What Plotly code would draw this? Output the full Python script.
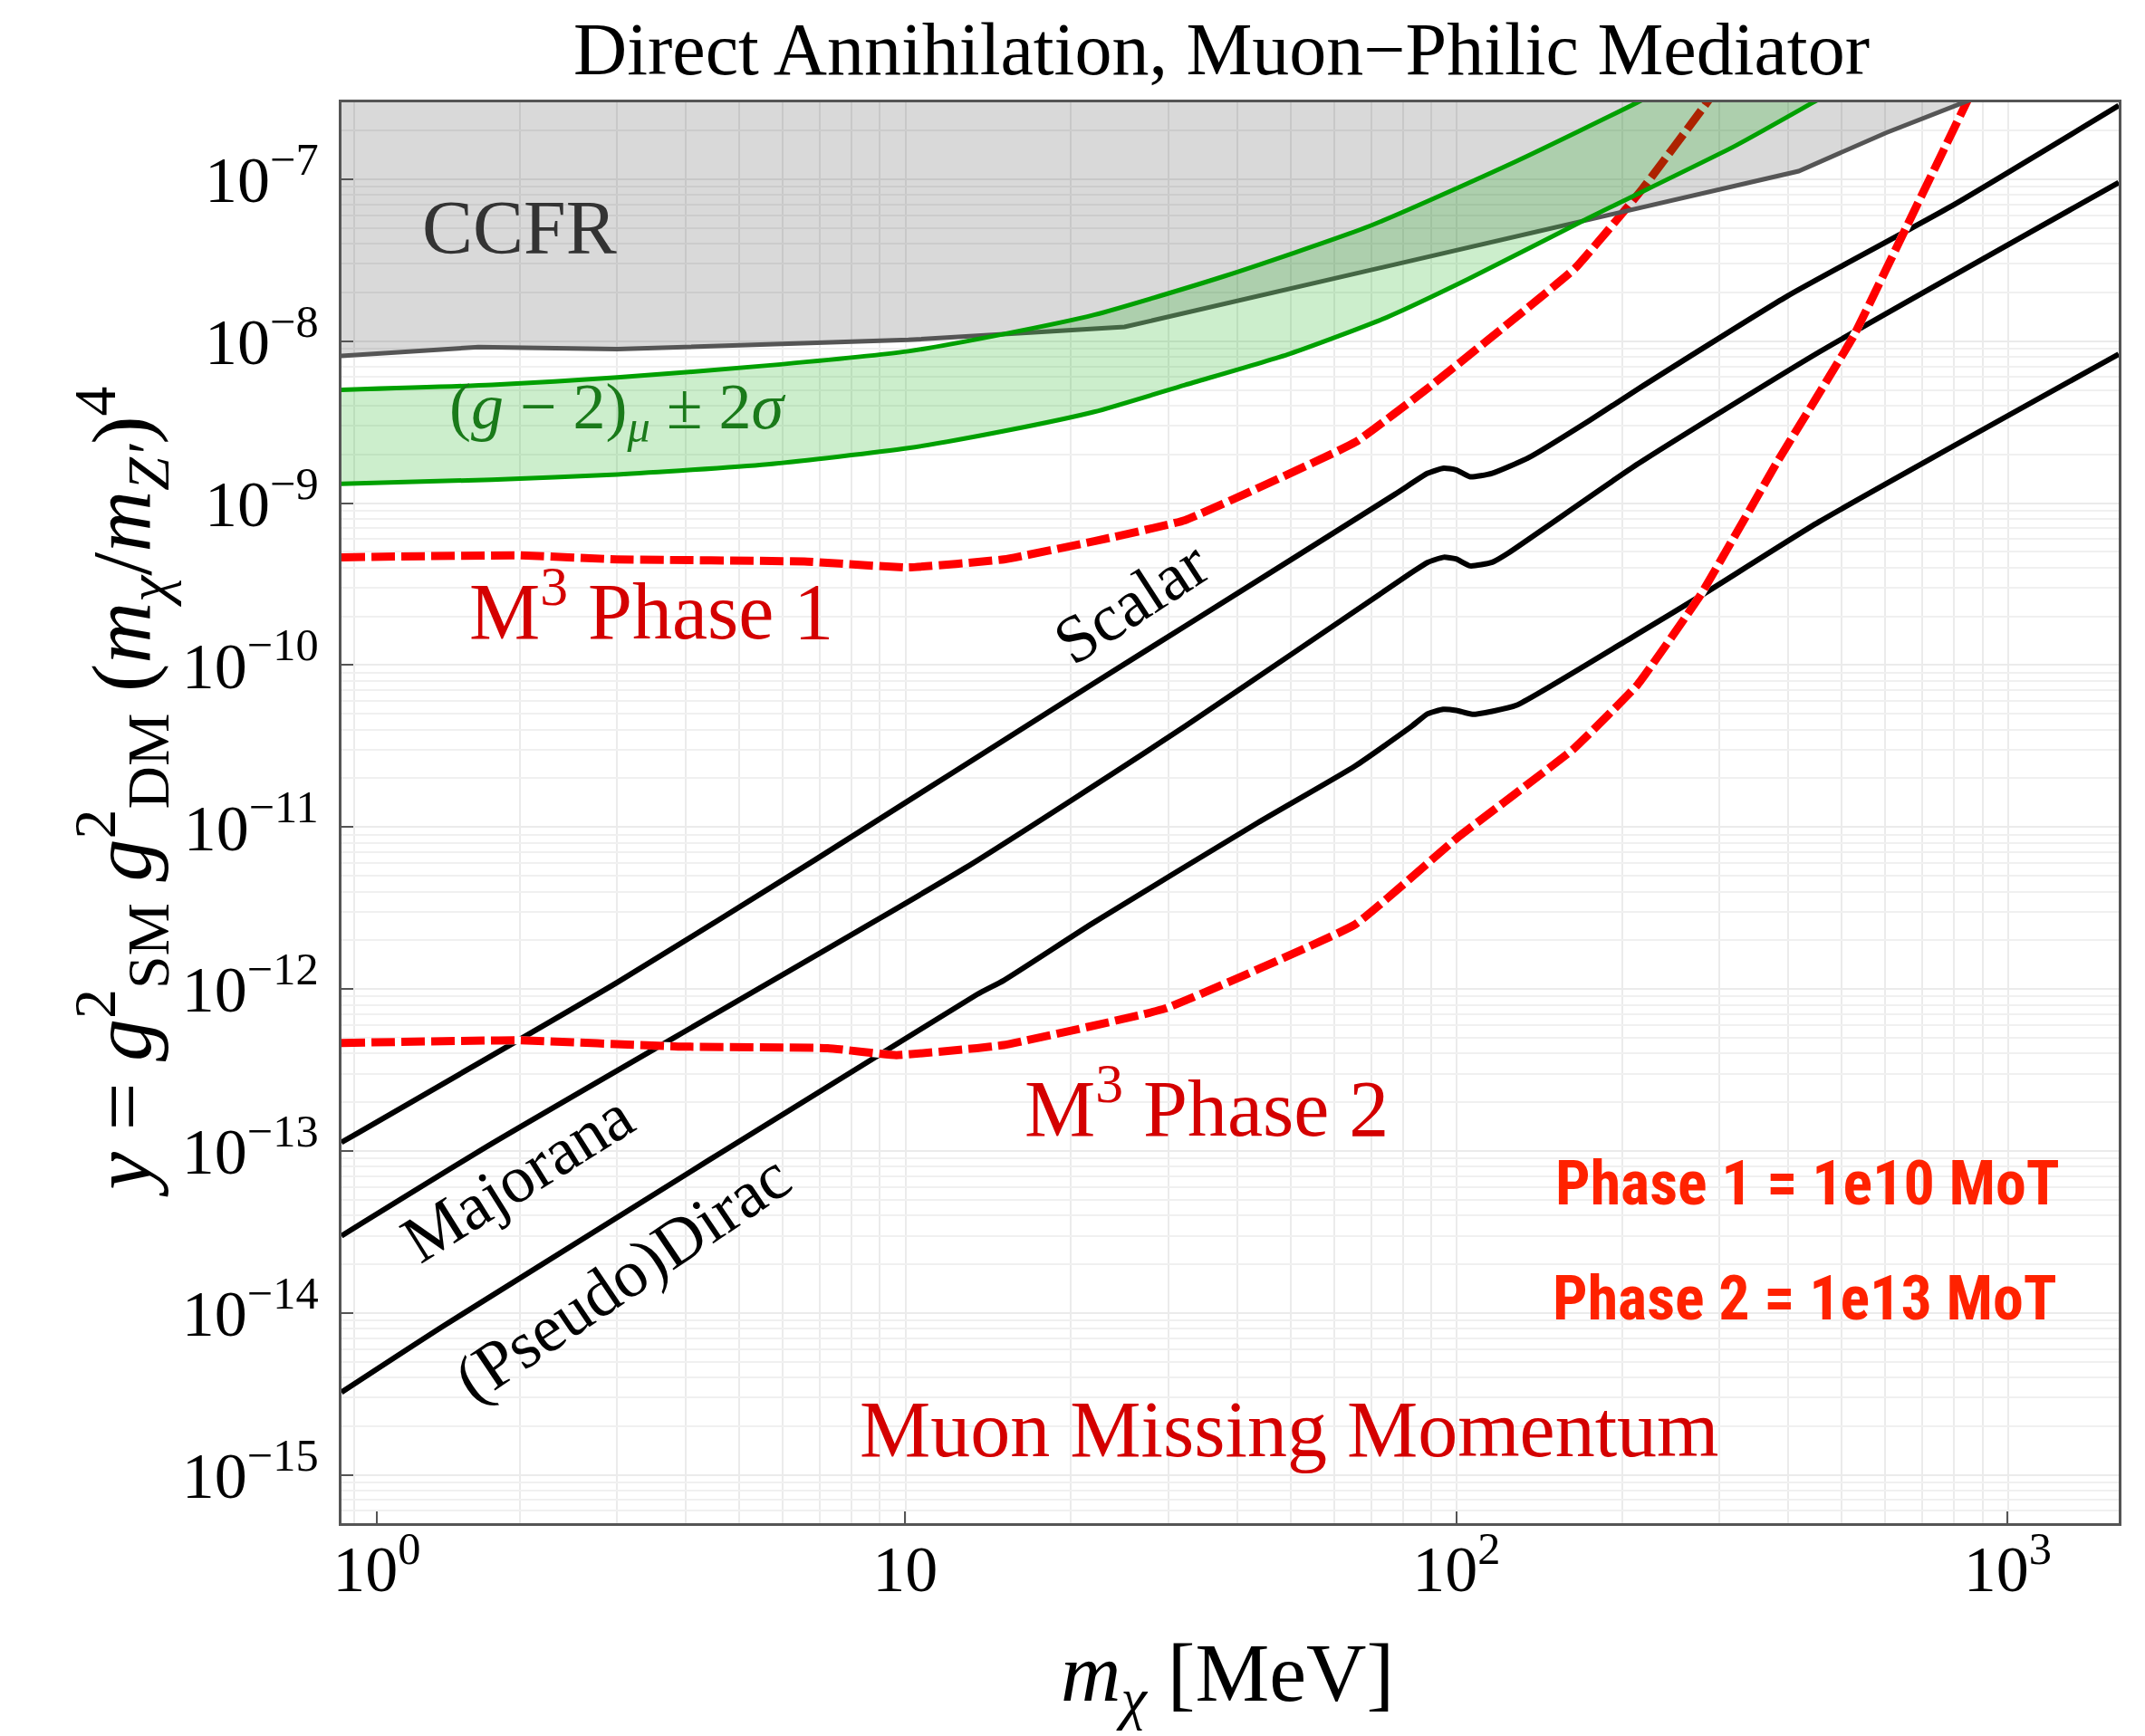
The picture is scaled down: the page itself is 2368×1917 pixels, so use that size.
import plotly.graph_objects as go

# ---------------- data (m_chi in MeV, y dimensionless) ----------------
scalar_mass = [0.949, 3.003, 6.879, 22.03, 32.18, 77.45, 88.72, 94.84, 99.77, 105.93, 116.14, 135.2, 174.2, 213.3, 398.1, 785.2, 1590.4]
scalar_y = [1.130e-13, 1.099e-12, 6.31e-12, 7.76e-11, 1.738e-10, 1.138e-9, 1.531e-9, 1.644e-9, 1.607e-9, 1.455e-9, 1.531e-9, 1.910e-9, 3.236e-9, 5.058e-9, 1.897e-8, 6.73e-8, 2.851e-7]

majorana_mass = [0.949, 1.781, 12.85, 32.18, 82.79, 88.72, 94.84, 99.77, 105.93, 116.14, 124.17, 213.3, 455.0, 1590.4]
majorana_y = [2.992e-14, 1.114e-13, 5.598e-12, 4.188e-11, 3.715e-10, 4.315e-10, 4.634e-10, 4.529e-10, 4.102e-10, 4.315e-10, 4.920e-10, 1.746e-9, 8.570e-9, 9.550e-8]

dirac_mass = [0.949, 1.455, 13.49, 15.10, 21.80, 43.62, 65.55, 82.79, 88.72, 94.62, 100.0, 106.9, 116.1, 128.5, 213.3, 279.6, 455.0, 1590.4]
dirac_y = [3.236e-15, 8.337e-15, 9.247e-13, 1.132e-12, 2.529e-12, 1.064e-11, 2.388e-11, 4.169e-11, 5.012e-11, 5.333e-11, 5.248e-11, 4.966e-11, 5.188e-11, 5.649e-11, 1.563e-10, 2.723e-10, 7.674e-10, 8.318e-9]

phase1_mass = [0.949, 2.003, 3.003, 6.561, 10.13, 15.10, 22.03, 32.18, 65.60, 89.05, 114.3, 164.1, 216.3, 284.8, 316.2]
phase1_y = [4.634e-10, 4.764e-10, 4.498e-10, 4.365e-10, 4.009e-10, 4.498e-10, 5.821e-10, 7.852e-10, 2.382e-9, 5.176e-9, 1.023e-8, 2.818e-8, 8.511e-8, 2.979e-7, 5.012e-7]

phase2_mass = [0.949, 1.971, 3.873, 7.236, 9.638, 13.49, 15.10, 29.58, 65.60, 99.77, 162.9, 213.3, 277.0, 380.2, 524.8, 654.6, 849.2, 912.0]
phase2_y = [4.645e-13, 4.831e-13, 4.416e-13, 4.315e-13, 3.908e-13, 4.315e-13, 4.508e-13, 7.568e-13, 2.512e-12, 8.453e-12, 3.027e-11, 7.603e-11, 2.698e-10, 1.750e-9, 1.069e-8, 5.040e-8, 3.162e-7, 5.370e-7]

ccfr_mass = [0.949, 1.683, 3.003, 10.13, 25.00, 417.6, 602.6, 831.8, 1000.0]
ccfr_y = [8.110e-9, 9.204e-9, 8.933e-9, 1.019e-8, 1.225e-8, 1.122e-7, 1.941e-7, 2.979e-7, 3.802e-7]

gm2_upper_mass = [0.949, 1.778, 3.003, 5.623, 10.13, 15.10, 22.03, 37.80, 69.66, 128.5, 212.8, 281.8]
gm2_upper_y = [5.012e-9, 5.370e-9, 5.970e-9, 7.079e-9, 8.670e-9, 1.107e-8, 1.455e-8, 2.512e-8, 5.152e-8, 1.294e-7, 2.979e-7, 4.898e-7]

gm2_lower_mass = [0.949, 1.778, 3.003, 5.623, 10.13, 15.10, 22.03, 32.18, 49.89, 74.82, 104.95, 174.6, 322.1, 443.6, 562.3]
gm2_lower_y = [1.318e-9, 1.396e-9, 1.503e-9, 1.738e-9, 2.188e-9, 2.786e-9, 3.664e-9, 5.370e-9, 8.375e-9, 1.406e-8, 2.415e-8, 5.821e-8, 1.622e-7, 2.979e-7, 4.677e-7]

x_tick_vals = [1.1, 10, 100, 1000]
x_tick_text = ["10<sup>0</sup>", "10", "10<sup>2</sup>", "10<sup>3</sup>"]
y_tick_vals = [1e-15, 1e-14, 1e-13, 1e-12, 1e-11, 1e-10, 1e-9, 1e-8, 1e-7]
y_tick_text = ["10<sup>−15</sup>", "10<sup>−14</sup>", "10<sup>−13</sup>", "10<sup>−12</sup>", "10<sup>−11</sup>",
               "10<sup>−10</sup>", "10<sup>−9</sup>", "10<sup>−8</sup>", "10<sup>−7</sup>"]

x_grid_vals = [k * d for d in (1, 10, 100) for k in range(1, 10)] + [1000]
x_grid_vals = [v * 1.002 if v in (10, 100, 1000) else v for v in x_grid_vals]
y_grid_vals = [k * 10.0 ** e for e in range(-16, -6) for k in range(2, 10)]

SERIF = "Liberation Serif, Times New Roman, serif"
NARROW = "Roboto Condensed, Liberation Sans Narrow, Roboto, sans-serif"
RED_TXT = "#d40000"
MOT_RED = "#ff2200"

fig = go.Figure()

# black relic-target lines
for m, y in [(scalar_mass, scalar_y), (majorana_mass, majorana_y), (dirac_mass, dirac_y)]:
    fig.add_trace(go.Scatter(x=m, y=y, mode="lines",
                             line=dict(color="black", width=6, shape="spline", smoothing=0.5),
                             hoverinfo="skip", showlegend=False))

# M^3 projections (white underlay + red dashes)
for m, y in [(phase1_mass, phase1_y), (phase2_mass, phase2_y)]:
    fig.add_trace(go.Scatter(x=m, y=y, mode="lines",
                             line=dict(color="white", width=9, shape="spline", smoothing=0.3),
                             hoverinfo="skip", showlegend=False))
    fig.add_trace(go.Scatter(x=m, y=y, mode="lines",
                             line=dict(color="#ff0000", width=9, dash="26px,7px", shape="spline", smoothing=0.3),
                             hoverinfo="skip", showlegend=False))

# CCFR excluded region
fig.add_trace(go.Scatter(x=ccfr_mass + [ccfr_mass[-1], ccfr_mass[0]],
                         y=ccfr_y + [1e-5, 1e-5], mode="lines", fill="toself",
                         fillcolor="rgba(0,0,0,0.15)", line=dict(width=0),
                         hoverinfo="skip", showlegend=False))
fig.add_trace(go.Scatter(x=ccfr_mass, y=ccfr_y, mode="lines",
                         line=dict(color="#555555", width=5),
                         hoverinfo="skip", showlegend=False))

# (g-2)_mu band
fig.add_trace(go.Scatter(x=gm2_upper_mass + gm2_lower_mass[::-1],
                         y=gm2_upper_y + gm2_lower_y[::-1], mode="lines", fill="toself",
                         fillcolor="rgba(0,170,0,0.2)", line=dict(width=0, shape="spline", smoothing=0.6),
                         hoverinfo="skip", showlegend=False))
for m, y in [(gm2_upper_mass, gm2_upper_y), (gm2_lower_mass, gm2_lower_y)]:
    fig.add_trace(go.Scatter(x=m, y=y, mode="lines",
                             line=dict(color="#00a000", width=5, shape="spline", smoothing=0.6),
                             hoverinfo="skip", showlegend=False))

axis_common = dict(type="log", ticks="inside", ticklen=13, tickwidth=2, tickcolor="#555555",
                   showline=True, linecolor="#555555", linewidth=3, mirror=True, zeroline=False,
                   tickfont=dict(family=SERIF, size=72, color="black"))

fig.update_xaxes(range=[-0.0226, 3.2015], tickmode="array", tickvals=x_tick_vals, ticktext=x_tick_text,
                 showgrid=False, ticklabelstandoff=-14,
                 minor=dict(tickmode="array", tickvals=x_grid_vals, showgrid=True,
                            gridcolor="#ebebeb", gridwidth=2, ticks=""),
                 **axis_common)
fig.update_yaxes(range=[-15.298, -6.525], tickmode="array", tickvals=y_tick_vals, ticktext=y_tick_text,
                 showgrid=True, gridcolor="#ebebeb", gridwidth=2, ticklabelstandoff=8,
                 minor=dict(tickmode="array", tickvals=y_grid_vals, showgrid=True,
                            gridcolor="#f0f0f0", gridwidth=2, ticks=""),
                 **axis_common)

ann = []
# title & axis titles
ann.append(dict(text="Direct Annihilation, Muon−Philic Mediator", xref="paper", yref="paper",
                x=0.495, y=1.037, font=dict(family=SERIF, size=82, color="black")))
ann.append(dict(text="<i>m</i><sub><i>χ</i></sub> [MeV]", xref="paper", yref="paper",
                x=0.4985, y=-0.109, font=dict(family=SERIF, size=92, color="black")))
ann.append(dict(text="<i>y</i> = <i>g</i><sup>2</sup><sub>SM</sub> <i>g</i><sup>2</sup><sub>DM</sub> (<i>m</i><sub><i>χ</i></sub>/<i>m</i><sub><i>Z′</i></sub>)<sup>4</sup>",
                xref="paper", yref="paper", x=-0.124, y=0.515, textangle=-90,
                font=dict(family=SERIF, size=94, color="black")))
# in-plot labels (x, y in log10 data units)
ann.append(dict(text="CCFR", x=0.301, y=-7.30, font=dict(family=SERIF, size=84, color="#333333")))
ann.append(dict(text="(<i>g</i> − 2)<sub><i>μ</i></sub> ± 2<i>σ</i>", x=0.4776, y=-8.43,
                font=dict(family=SERIF, size=72, color="#1a7a1a")))
ann.append(dict(text="M<sup>3</sup> Phase 1", x=0.540, y=-9.63, font=dict(family=SERIF, size=88, color=RED_TXT)))
ann.append(dict(text="M<sup>3</sup> Phase 2", x=1.5469, y=-12.70, font=dict(family=SERIF, size=88, color=RED_TXT)))
ann.append(dict(text="Muon Missing Momentum", x=1.697, y=-14.72, font=dict(family=SERIF, size=88, color=RED_TXT)))
ann.append(dict(text="Scalar", x=1.409, y=-9.61, textangle=-33, font=dict(family=SERIF, size=74, color="black")))
ann.append(dict(text="Majorana", x=0.2967, y=-13.16, textangle=-32, font=dict(family=SERIF, size=74, color="black")))
ann.append(dict(text="(Pseudo)Dirac", x=0.4856, y=-13.78, textangle=-34, font=dict(family=SERIF, size=74, color="black")))
ann.append(dict(text="<b>Phase 1 = 1e10 MoT</b>", x=2.637, y=-13.20,
                font=dict(family=NARROW, size=68, color=MOT_RED)))
ann.append(dict(text="<b>Phase 2 = 1e13 MoT</b>", x=2.6327, y=-13.91,
                font=dict(family=NARROW, size=68, color=MOT_RED)))

for a in ann:
    a.setdefault("xref", "x")
    a.setdefault("yref", "y")
    a.update(showarrow=False, xanchor="center", yanchor="middle")
    fig.add_annotation(**a)

fig.update_layout(width=2368, height=1917, margin=dict(l=369, r=37, t=105, b=243),
                  paper_bgcolor="white", plot_bgcolor="white", showlegend=False,
                  font=dict(family=SERIF, color="black"))

fig.write_html("out.html")
